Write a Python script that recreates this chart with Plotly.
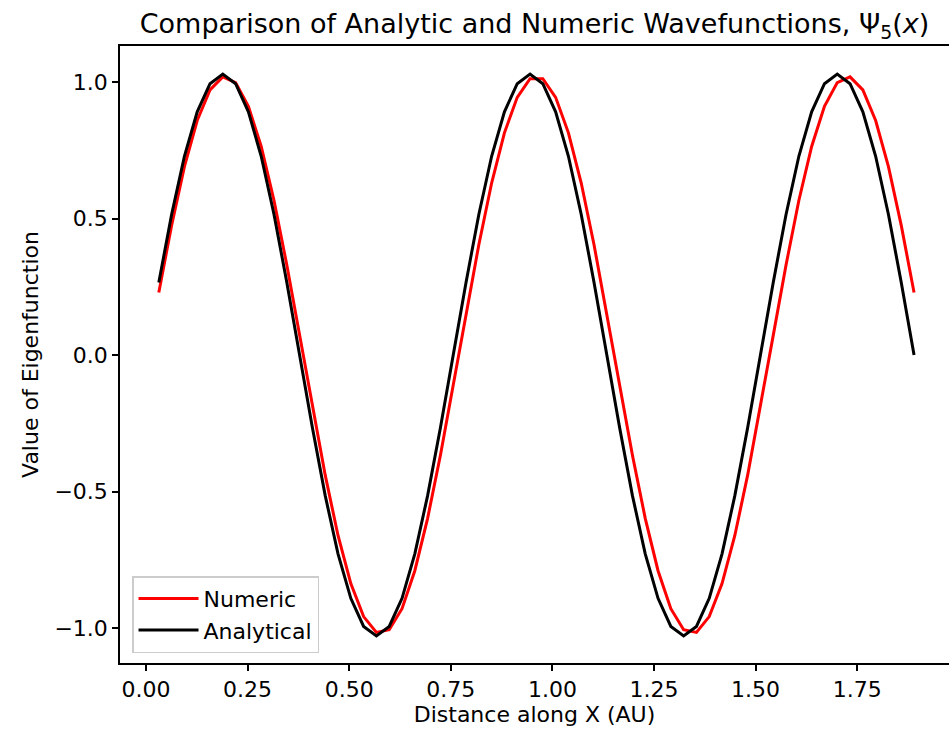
import plotly.graph_objects as go

x_vals = [0.0315, 0.0630, 0.0945, 0.1260, 0.1575, 0.1890, 0.2205, 0.2520, 0.2835, 0.3150,
          0.3465, 0.3780, 0.4095, 0.4410, 0.4725, 0.5040, 0.5355, 0.5670, 0.5985, 0.6300,
          0.6615, 0.6930, 0.7245, 0.7560, 0.7875, 0.8190, 0.8505, 0.8820, 0.9135, 0.9450,
          0.9765, 1.0080, 1.0395, 1.0710, 1.1025, 1.1340, 1.1655, 1.1970, 1.2285, 1.2600,
          1.2915, 1.3230, 1.3545, 1.3860, 1.4175, 1.4490, 1.4805, 1.5120, 1.5435, 1.5750,
          1.6065, 1.6380, 1.6695, 1.7010, 1.7325, 1.7640, 1.7955, 1.8270, 1.8585, 1.8900]

numeric = [0.229, 0.475, 0.690, 0.859, 0.971, 1.019, 0.998, 0.911, 0.764, 0.566,
           0.330, 0.072, -0.190, -0.440, -0.661, -0.837, -0.958, -1.016, -1.006, -0.929,
           -0.790, -0.598, -0.367, -0.112, 0.151, 0.404, 0.630, 0.814, 0.944, 1.012,
           1.012, 0.944, 0.814, 0.630, 0.404, 0.151, -0.112, -0.367, -0.598, -0.790,
           -0.929, -1.006, -1.016, -0.958, -0.837, -0.661, -0.440, -0.190, 0.072, 0.330,
           0.566, 0.764, 0.911, 0.998, 1.019, 0.971, 0.859, 0.690, 0.475, 0.229]

analytical = [0.266, 0.515, 0.728, 0.891, 0.994, 1.029, 0.994, 0.891, 0.728, 0.515,
              0.266, 0.000, -0.266, -0.515, -0.728, -0.891, -0.994, -1.029, -0.994, -0.891,
              -0.728, -0.515, -0.266, 0.000, 0.266, 0.515, 0.728, 0.891, 0.994, 1.029,
              0.994, 0.891, 0.728, 0.515, 0.266, 0.000, -0.266, -0.515, -0.728, -0.891,
              -0.994, -1.029, -0.994, -0.891, -0.728, -0.515, -0.266, 0.000, 0.266, 0.515,
              0.728, 0.891, 0.994, 1.029, 0.994, 0.891, 0.728, 0.515, 0.266, 0.000]

x_ticks = [0.0, 0.25, 0.5, 0.75, 1.0, 1.25, 1.5, 1.75]
x_tick_labels = ["0.00", "0.25", "0.50", "0.75", "1.00", "1.25", "1.50", "1.75"]
y_ticks = [-1.0, -0.5, 0.0, 0.5, 1.0]
y_tick_labels = ["\u22121.0", "\u22120.5", "0.0", "0.5", "1.0"]

font_family = "DejaVu Sans"

fig = go.Figure()
fig.add_trace(go.Scatter(x=x_vals, y=numeric, mode="lines", name="Numeric",
                         line=dict(color="#ff0000", width=3)))
fig.add_trace(go.Scatter(x=x_vals, y=analytical, mode="lines", name="Analytical",
                         line=dict(color="#000000", width=3)))

fig.update_layout(
    width=949, height=737,
    margin=dict(l=120, r=0, t=46, b=74),
    paper_bgcolor="white", plot_bgcolor="white",
    font=dict(family=font_family, size=22, color="black"),
    title=dict(text="Comparison of Analytic and Numeric Wavefunctions, \u03a8<sub>5</sub>(<i>x</i>)",
               x=0.5, xref="paper", xanchor="center", y=0.968, yanchor="middle",
               font=dict(family=font_family, size=27, color="black")),
    showlegend=True,
    legend=dict(x=0.0145, y=0.016, xanchor="left", yanchor="bottom",
                bgcolor="rgba(255,255,255,0.8)", bordercolor="#cccccc", borderwidth=1.5,
                font=dict(family=font_family, size=22, color="black"),
                itemwidth=60, tracegroupgap=0),
)

fig.update_xaxes(
    range=[-0.064, 1.976], tickvals=x_ticks, ticktext=x_tick_labels,
    showgrid=False, zeroline=False, showline=True, linecolor="black", linewidth=1.5,
    mirror=True, ticks="outside", ticklen=6, tickwidth=1.5, tickcolor="black",
    tickfont=dict(family=font_family, size=22, color="black"),
    title=dict(text="Distance along X (AU)", standoff=5,
               font=dict(family=font_family, size=22, color="black")),
)
fig.update_yaxes(
    range=[-1.128, 1.132], tickvals=y_ticks, ticktext=y_tick_labels,
    showgrid=False, zeroline=False, showline=True, linecolor="black", linewidth=1.5,
    mirror=False, ticks="outside", ticklen=6, tickwidth=1.5, tickcolor="black",
    tickfont=dict(family=font_family, size=22, color="black"),
    title=dict(text="Value of Eigenfunction", standoff=10,
               font=dict(family=font_family, size=22, color="black")),
)

fig.write_html("out.html")
